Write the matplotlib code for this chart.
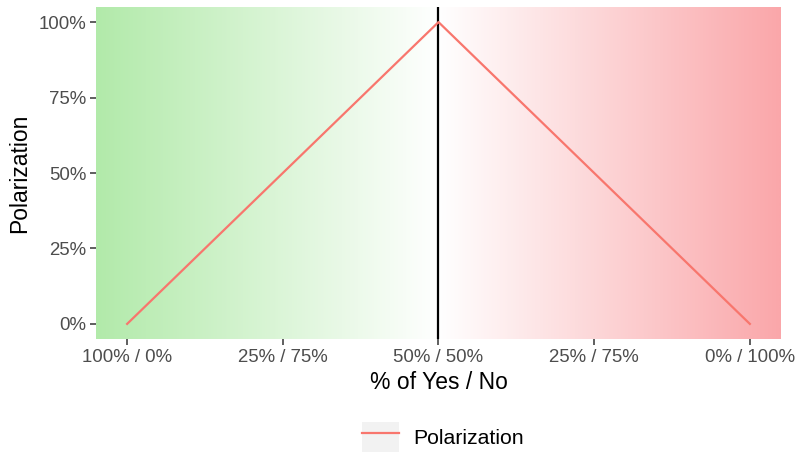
import numpy as np
import matplotlib
matplotlib.use("Agg")
import matplotlib.pyplot as plt
from matplotlib.colors import LinearSegmentedColormap
from matplotlib.legend_handler import HandlerLine2D
from matplotlib.patches import Rectangle

plt.rcParams['font.family'] = ['Liberation Sans', 'DejaVu Sans']

# data
share_yes = [0, 50, 100]
polarization = [0, 100, 0]
x_ticks = [0, 25, 50, 75, 100]
x_labels = ["100% / 0%", "25% / 75%", "50% / 50%", "25% / 75%", "0% / 100%"]
y_ticks = [0, 25, 50, 75, 100]
y_labels = ["0%", "25%", "50%", "75%", "100%"]
bg_colors = ["#B2EAAA", "#FFFFFF", "#FAA7AA"]


class KeyHandler(HandlerLine2D):
    # ggplot style grey key box behind the line
    def create_artists(self, legend, orig_handle, xdescent, ydescent,
                       width, height, fontsize, trans):
        box = Rectangle((-xdescent, -ydescent), width, height,
                        facecolor="#F2F2F2", edgecolor="none", transform=trans)
        arts = super().create_artists(legend, orig_handle, xdescent, ydescent,
                                      width, height, fontsize, trans)
        return [box] + list(arts)


fig = plt.figure(figsize=(7.98, 4.54), dpi=100)
ax = fig.add_axes([96 / 798, 115 / 454, 685 / 798, 332 / 454])

cmap = LinearSegmentedColormap.from_list("yesno", bg_colors)
grad = np.linspace(0, 1, 512).reshape(1, -1)
ax.imshow(grad, cmap=cmap, extent=[-5, 105, -5, 105], aspect="auto",
          interpolation="bilinear", zorder=0)

ax.axvline(50, color="black", lw=1.6, zorder=2)
line, = ax.plot(share_yes, polarization, color="#F8766D", lw=1.6,
                label="Polarization", zorder=3)

ax.set_xlim(-5, 105)
ax.set_ylim(-5, 105)
ax.set_xticks(x_ticks)
ax.set_xticklabels(x_labels)
ax.set_yticks(y_ticks)
ax.set_yticklabels(y_labels)
ax.tick_params(axis="both", length=4, width=1.1, color="#333333",
               labelcolor="#4D4D4D", labelsize=13.4, pad=3)
for s in ax.spines.values():
    s.set_visible(False)

ax.set_xlabel("% of Yes / No", fontsize=16.5, labelpad=4)
ax.set_ylabel("Polarization", fontsize=16.5, labelpad=5)

fig.legend(handles=[line], loc="center", bbox_to_anchor=(443 / 798, 1 - 437 / 454),
           frameon=False, fontsize=15.3, handlelength=1.75, handleheight=1.75,
           handletextpad=0.7, handler_map={line: KeyHandler()})

fig.savefig("out.png", dpi=100)
